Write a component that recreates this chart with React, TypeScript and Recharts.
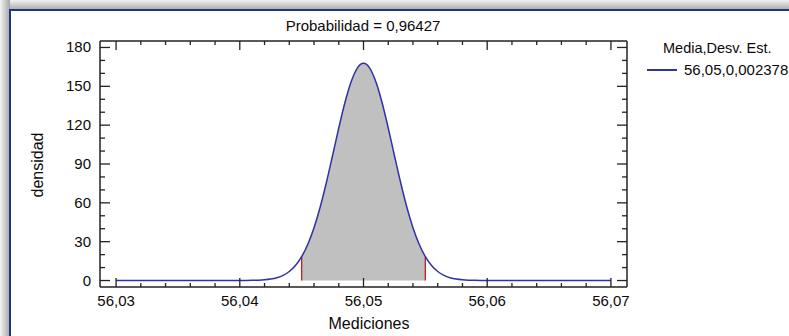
import { ComposedChart, Line, Area, XAxis, YAxis, ReferenceLine } from "recharts";

const mediciones = [
  56.03, 56.035,
  56.04, 56.0405, 56.041, 56.0415, 56.042, 56.0425, 56.043, 56.0435, 56.044, 56.0445,
  56.045, 56.0455, 56.046, 56.0465, 56.047, 56.0475, 56.048, 56.0485, 56.049, 56.0495,
  56.05,
  56.0505, 56.051, 56.0515, 56.052, 56.0525, 56.053, 56.0535, 56.054, 56.0545, 56.055,
  56.0555, 56.056, 56.0565, 56.057, 56.0575, 56.058, 56.0585, 56.059, 56.0595, 56.06,
  56.065, 56.07,
];
const densidad = [
  0, 0,
  0.02, 0.06, 0.13, 0.28, 0.59, 1.16, 2.2, 4.0, 6.96, 11.56,
  18.4, 28.0, 40.76, 56.79, 75.7, 96.54, 117.79, 137.49, 153.56, 164.09,
  167.76,
  164.09, 153.56, 137.49, 117.79, 96.54, 75.7, 56.79, 40.76, 28.0, 18.4,
  11.56, 6.96, 4.0, 2.2, 1.16, 0.59, 0.28, 0.13, 0.06, 0.02,
  0, 0,
];
const limiteInf = 56.045;
const limiteSup = 56.055;

const xTicks = [
  56.03, 56.032, 56.034, 56.036, 56.038, 56.04, 56.042, 56.044, 56.046, 56.048,
  56.05, 56.052, 56.054, 56.056, 56.058, 56.06, 56.062, 56.064, 56.066, 56.068, 56.07,
];
const yTicks = [0, 10, 20, 30, 40, 50, 60, 70, 80, 90, 100, 110, 120, 130, 140, 150, 160, 170, 180];

const data = mediciones.map((x, i) => ({
  x,
  density: densidad[i],
  shade: x >= limiteInf - 1e-9 && x <= limiteSup + 1e-9 ? densidad[i] : null,
}));

const densAt = (v: number) => data.find((d) => Math.abs(d.x - v) < 1e-9)?.density ?? 0;

const FONT = '"Liberation Sans", Arial, sans-serif';
const BLUE = "#3030a8";
const INK = "#0a0a0a";
const isMajorX = (v: number) => Math.round(v * 1000) % 10 === 0;
const isMajorY = (v: number) => v % 30 === 0;

const BottomTick = (props: any) => {
  const { x, y, payload } = props;
  const major = isMajorX(payload.value);
  return (
    <g>
      <line x1={x} x2={x} y1={y} y2={y - (major ? 9 : 4)} stroke="#222" strokeWidth={1.3} />
      {major && (
        <text x={x} y={y + 19} textAnchor="middle" fontSize={15} fontFamily={FONT} fill={INK}>
          {payload.value.toFixed(2).replace(".", ",")}
        </text>
      )}
    </g>
  );
};

const TopTick = (props: any) => {
  const { x, y, payload } = props;
  const major = isMajorX(payload.value);
  return <line x1={x} x2={x} y1={y} y2={y + (major ? 9 : 4)} stroke="#222" strokeWidth={1.3} />;
};

const LeftTick = (props: any) => {
  const { x, y, payload } = props;
  const major = isMajorY(payload.value);
  return (
    <g>
      <line x1={x} x2={x + (major ? 10 : 5)} y1={y} y2={y} stroke="#222" strokeWidth={1.3} />
      {major && (
        <text x={x - 9} y={y + 5} textAnchor="end" fontSize={15} fontFamily={FONT} fill={INK}>
          {payload.value}
        </text>
      )}
    </g>
  );
};

const RightTick = (props: any) => {
  const { x, y, payload } = props;
  const major = isMajorY(payload.value);
  return <line x1={x} x2={x - (major ? 10 : 5)} y1={y} y2={y} stroke="#222" strokeWidth={1.3} />;
};

export default function App() {
  const axisLine = { stroke: "#222", strokeWidth: 1.5 };
  return (
    <div
      style={{
        position: "absolute",
        left: 0,
        top: 0,
        width: 789,
        height: 336,
        overflow: "hidden",
        background: "#fff",
        fontFamily: FONT,
      }}
    >
      {/* window shadow */}
      <div
        style={{
          position: "absolute",
          left: 0,
          top: 0,
          width: 789,
          height: 10,
          background: "linear-gradient(to bottom, #f2f2f2, #a9a9a9)",
        }}
      />
      <div
        style={{
          position: "absolute",
          left: 0,
          top: 0,
          width: 10,
          height: 336,
          background: "linear-gradient(to right, #f4f4f4, #a6a6a6)",
        }}
      />
      <div
        style={{
          position: "absolute",
          left: 9,
          top: 9,
          width: 800,
          height: 360,
          border: "2px solid #1c3a78",
          background: "#fff",
        }}
      />

      <div style={{ position: "absolute", left: 0, top: 0 }}>
        <ComposedChart
          width={789}
          height={336}
          data={data}
          margin={{ top: 40, right: 161, bottom: 0, left: 40 }}
        >
          <XAxis
            dataKey="x"
            type="number"
            domain={[56.0287, 56.0713]}
            ticks={xTicks}
            interval={0}
            tickSize={0}
            tickMargin={0}
            tickLine={false}
            axisLine={axisLine}
            tick={<BottomTick />}
            height={49}
            allowDataOverflow
          />
          <XAxis
            xAxisId="top"
            orientation="top"
            dataKey="x"
            type="number"
            domain={[56.0287, 56.0713]}
            ticks={xTicks}
            interval={0}
            tickSize={0}
            tickMargin={0}
            tickLine={false}
            axisLine={axisLine}
            tick={<TopTick />}
            height={1}
            allowDataOverflow
          />
          <YAxis
            type="number"
            domain={[-5, 185]}
            ticks={yTicks}
            interval={0}
            tickSize={0}
            tickMargin={0}
            tickLine={false}
            axisLine={axisLine}
            tick={<LeftTick />}
            width={60}
            allowDataOverflow
          />
          <YAxis
            yAxisId="right"
            orientation="right"
            type="number"
            domain={[-5, 185]}
            ticks={yTicks}
            interval={0}
            tickSize={0}
            tickMargin={0}
            tickLine={false}
            axisLine={axisLine}
            tick={<RightTick />}
            width={1}
            allowDataOverflow
          />
          <Area
            dataKey="shade"
            type="monotone"
            fill="#c0c0c0"
            fillOpacity={1}
            stroke="none"
            isAnimationActive={false}
          />
          <ReferenceLine
            segment={[
              { x: limiteInf, y: 0 },
              { x: limiteInf, y: densAt(limiteInf) },
            ]}
            stroke="#b82a24"
            strokeWidth={1.4}
          />
          <ReferenceLine
            segment={[
              { x: limiteSup, y: 0 },
              { x: limiteSup, y: densAt(limiteSup) },
            ]}
            stroke="#b82a24"
            strokeWidth={1.4}
          />
          <Line
            dataKey="density"
            type="monotone"
            stroke={BLUE}
            strokeWidth={1.5}
            dot={false}
            activeDot={false}
            isAnimationActive={false}
          />
        </ComposedChart>
      </div>

      {/* title */}
      <div
        style={{
          position: "absolute",
          left: 163,
          width: 400,
          top: 17,
          textAlign: "center",
          fontSize: 15,
          color: INK,
        }}
      >
        Probabilidad = 0,96427
      </div>
      {/* x label */}
      <div
        style={{
          position: "absolute",
          left: 169,
          width: 400,
          top: 315,
          textAlign: "center",
          fontSize: 16,
          color: INK,
        }}
      >
        Mediciones
      </div>
      {/* y label */}
      <div
        style={{
          position: "absolute",
          left: 38,
          top: 165,
          transform: "translate(-50%, -50%) rotate(-90deg)",
          fontSize: 16,
          color: INK,
          whiteSpace: "nowrap",
        }}
      >
        densidad
      </div>
      {/* legend */}
      <div
        style={{
          position: "absolute",
          left: 663,
          top: 40,
          fontSize: 14.5,
          color: INK,
          whiteSpace: "nowrap",
        }}
      >
        Media,Desv. Est.
      </div>
      <div
        style={{
          position: "absolute",
          left: 647,
          top: 69,
          width: 30,
          height: 0,
          borderTop: `2px solid ${BLUE}`,
        }}
      />
      <div
        style={{
          position: "absolute",
          left: 684,
          top: 61,
          fontSize: 15,
          color: INK,
          whiteSpace: "nowrap",
        }}
      >
        56,05,0,002378
      </div>
    </div>
  );
}
